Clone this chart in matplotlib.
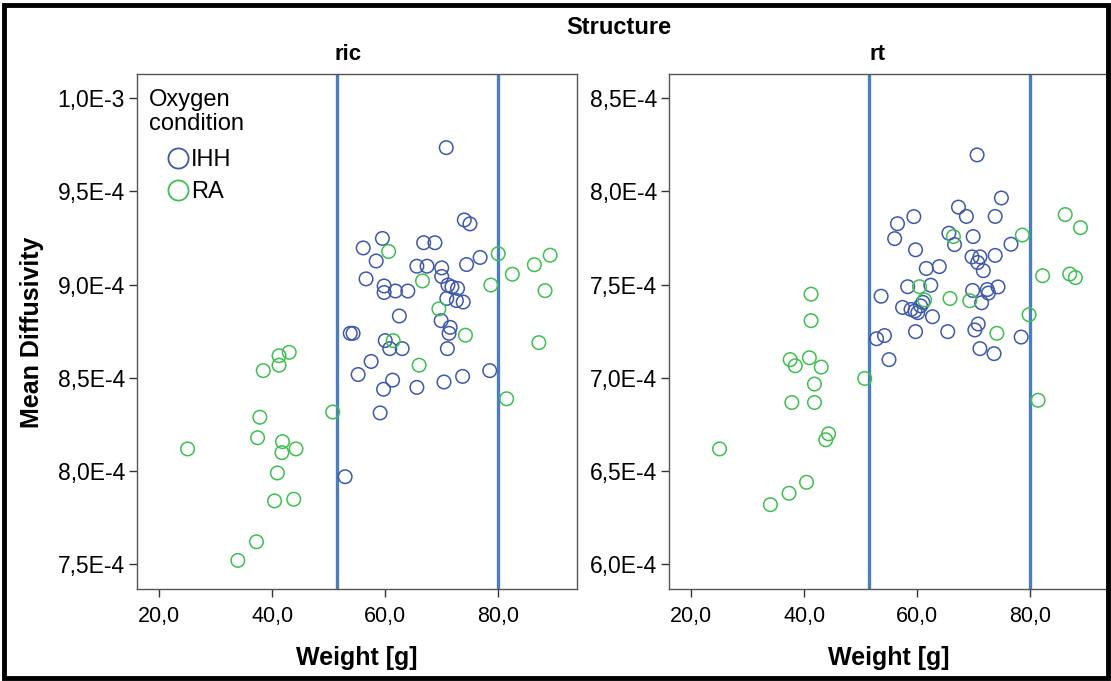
import numpy as np
import matplotlib
matplotlib.use('Agg')
import matplotlib.pyplot as plt
from matplotlib.patches import Rectangle
from matplotlib.lines import Line2D

plt.rcParams['font.family'] = ['Liberation Sans', 'DejaVu Sans']

# weight [g] and mean diffusivity [x 1E-4] per structure / oxygen condition
ric_ihh_w = [70.8, 74.0, 75.0, 59.5, 56.1, 58.4, 66.8, 68.8, 76.8, 74.4,
             65.6, 67.4, 70.0, 70.0, 56.6, 59.8, 59.8, 61.8, 64.0, 71.1,
             71.8, 72.8, 70.9, 72.6, 73.8, 62.5, 69.9, 71.5, 71.3, 53.8,
             54.3, 60.0, 60.8, 63.0, 71.0, 57.5, 55.2, 61.3, 59.7, 65.6,
             70.4, 73.7, 78.5, 59.1, 52.9]
ric_ihh_md = [9.735, 9.347, 9.326, 9.248, 9.197, 9.127, 9.225, 9.225, 9.146, 9.108,
              9.099, 9.099, 9.090, 9.044, 9.031, 8.993, 8.958, 8.966, 8.966, 8.998,
              8.988, 8.980, 8.926, 8.915, 8.907, 8.832, 8.807, 8.771, 8.739, 8.739,
              8.739, 8.700, 8.657, 8.657, 8.657, 8.588, 8.518, 8.488, 8.439, 8.449,
              8.478, 8.508, 8.539, 8.312, 7.970]
ric_ra_w = [60.6, 80.0, 89.2, 86.4, 82.5, 66.6, 78.7, 88.3, 69.5, 74.2,
            61.4, 87.2, 66.0, 81.5, 50.7, 43.0, 41.2, 41.2, 38.4, 37.8,
            37.4, 25.0, 41.8, 41.7, 44.2, 40.9, 40.4, 43.8, 37.2, 33.9]
ric_ra_md = [9.178, 9.166, 9.158, 9.107, 9.056, 9.020, 8.998, 8.968, 8.870, 8.729,
             8.700, 8.689, 8.568, 8.388, 8.317, 8.637, 8.619, 8.568, 8.539, 8.289,
             8.179, 8.119, 8.158, 8.099, 8.119, 7.990, 7.840, 7.849, 7.621, 7.521]

rt_ihh_w = [70.6, 74.9, 67.3, 68.7, 73.8, 59.4, 56.5, 56.0, 65.6, 66.6,
            69.9, 76.6, 59.7, 69.7, 71.1, 70.7, 71.7, 73.8, 61.6, 63.9,
            58.3, 62.4, 53.6, 61.0, 60.6, 57.4, 58.9, 59.6, 60.1, 69.8,
            72.4, 72.6, 74.3, 71.4, 62.7, 59.7, 65.4, 70.2, 70.8, 78.4,
            52.8, 54.2, 71.1, 73.6, 55.0]
rt_ihh_md = [8.196, 7.965, 7.916, 7.866, 7.866, 7.865, 7.827, 7.747, 7.776, 7.715,
             7.758, 7.717, 7.687, 7.649, 7.649, 7.619, 7.575, 7.657, 7.587, 7.597,
             7.489, 7.497, 7.438, 7.405, 7.386, 7.378, 7.367, 7.359, 7.350, 7.469,
             7.474, 7.455, 7.488, 7.403, 7.328, 7.248, 7.248, 7.257, 7.289, 7.219,
             7.210, 7.227, 7.157, 7.130, 7.098]
rt_ra_w = [66.4, 78.6, 86.2, 88.9, 82.2, 87.0, 88.0, 60.4, 61.3, 65.8,
           69.3, 41.2, 41.2, 79.8, 74.1, 37.5, 38.4, 40.9, 43.0, 50.7,
           41.8, 37.8, 41.8, 81.4, 44.3, 43.8, 25.0, 40.4, 37.3, 34.0]
rt_ra_md = [7.758, 7.766, 7.876, 7.806, 7.548, 7.557, 7.538, 7.489, 7.418, 7.426,
            7.414, 7.449, 7.307, 7.339, 7.239, 7.098, 7.065, 7.108, 7.058, 6.997,
            6.967, 6.868, 6.868, 6.880, 6.700, 6.668, 6.619, 6.440, 6.381, 6.320]

x_ticks = [20, 40, 60, 80]
x_labels = ['20,0', '40,0', '60,0', '80,0']
ric_yticks = [7.5e-4, 8.0e-4, 8.5e-4, 9.0e-4, 9.5e-4, 1.0e-3]
ric_ylabels = ['7,5E-4', '8,0E-4', '8,5E-4', '9,0E-4', '9,5E-4', '1,0E-3']
rt_yticks = [6.0e-4, 6.5e-4, 7.0e-4, 7.5e-4, 8.0e-4, 8.5e-4]
rt_ylabels = ['6,0E-4', '6,5E-4', '7,0E-4', '7,5E-4', '8,0E-4', '8,5E-4']
ref_lines = [51.4, 80.0]

c_ihh = '#3e58ac'
c_ra = '#3cc04e'
c_ref = '#4a7ebf'

W, H = 1111, 681
fig = plt.figure(figsize=(W / 100, H / 100), dpi=100)


def fx(px):
    return px / W


def fy(py):
    return 1 - py / H


def px_axes(x0, x1, y0, y1):
    return fig.add_axes([fx(x0), fy(y1), (x1 - x0) / W, (y1 - y0) / H])


ax1 = px_axes(137.3, 576.7, 74, 589.3)
ax2 = px_axes(669.3, 1108.7, 74, 589.3)

panels = [
    (ax1, 'ric', 348, ric_ihh_w, ric_ihh_md, ric_ra_w, ric_ra_md, ric_yticks, ric_ylabels, 7.366e-4),
    (ax2, 'rt', 877, rt_ihh_w, rt_ihh_md, rt_ra_w, rt_ra_md, rt_yticks, rt_ylabels, 5.866e-4),
]

for ax, name, tx, iw, imd, rw, rmd, yt, yl, ybot in panels:
    for xv in ref_lines:
        ax.axvline(xv, color=c_ref, lw=2.4, zorder=1)
    ax.scatter(iw, np.array(imd) * 1e-4, s=95, facecolors='none',
               edgecolors=c_ihh, linewidths=1.1, zorder=3)
    ax.scatter(rw, np.array(rmd) * 1e-4, s=95, facecolors='none',
               edgecolors=c_ra, linewidths=1.1, zorder=3)
    ax.set_xlim(16.1, 93.9)
    ax.set_ylim(ybot, ybot + 2.764e-4)
    ax.set_xticks(x_ticks)
    ax.set_xticklabels(x_labels, fontsize=15.5)
    ax.set_yticks(yt)
    ax.set_yticklabels(yl, fontsize=16.5)
    ax.tick_params(direction='out', length=6, width=1, color='#333333', pad=3)
    ax.tick_params(axis='x', pad=6)
    for sp in ax.spines.values():
        sp.set_color('#555555')
        sp.set_linewidth(1.0)
    fig.text(fx(tx), fy(55), name, ha='center', va='center',
             fontsize=16, fontweight='bold')
    ax.set_xlabel('Weight [g]', fontsize=18, fontweight='bold', labelpad=14)

fig.text(fx(32), fy(332), 'Mean Diffusivity', rotation=90, ha='center', va='center',
         fontsize=18, fontweight='bold')
fig.text(fx(619), fy(28), 'Structure', ha='center', va='center',
         fontsize=17, fontweight='bold')

# legend drawn by hand: title flush left, entries indented
fig.text(fx(149), fy(100), 'Oxygen', ha='left', va='center', fontsize=17)
fig.text(fx(149), fy(124), 'condition', ha='left', va='center', fontsize=17)
for yy, col, lab in [(158, c_ihh, 'IHH'), (190, c_ra, 'RA')]:
    fig.add_artist(Line2D([fx(178)], [fy(yy)], ls='none', marker='o', ms=14.5,
                          mfc='none', mec=col, mew=1.3, transform=fig.transFigure))
    fig.text(fx(191), fy(yy + 2), lab, ha='left', va='center', fontsize=17)

# outer frame around the whole chart
fig.patches.append(Rectangle((fx(3.5), fy(677.5)), (1104) / W, (673) / H,
                             transform=fig.transFigure, fill=False,
                             edgecolor='black', lw=3.5))

plt.savefig('out.png', dpi=100)
